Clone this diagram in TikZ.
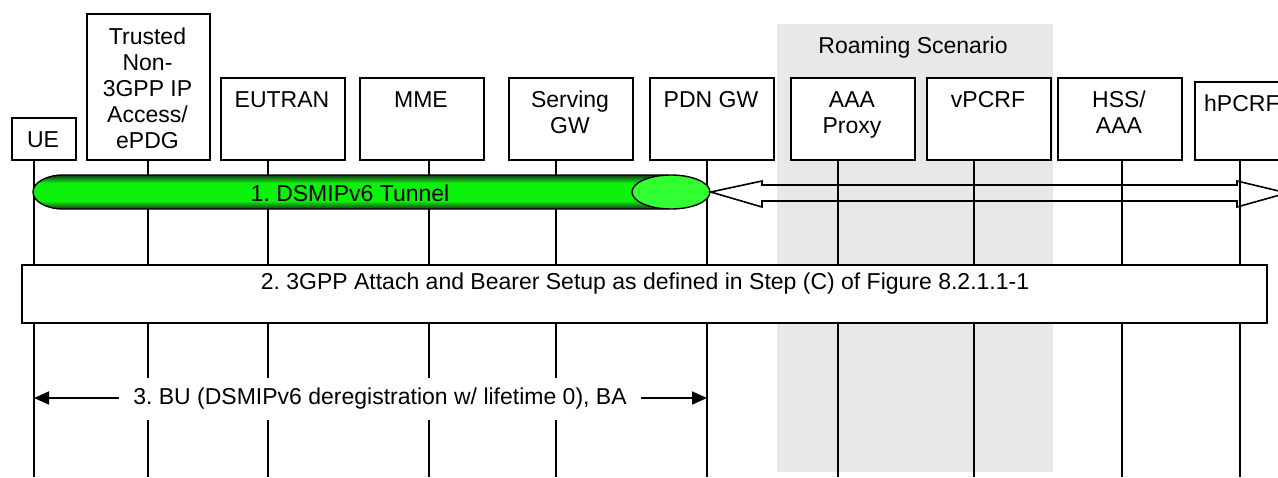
\documentclass[tikz,border=0pt]{standalone}
\usepackage{fontspec}
\setmainfont{Liberation Sans}
\usetikzlibrary{arrows.meta,shapes.geometric}
\definecolor{roam}{RGB}{232,232,232}
\definecolor{tubedark}{RGB}{25,55,25}
\definecolor{tubegreen}{RGB}{12,242,12}
\definecolor{capgreen}{RGB}{50,255,50}
\pgfdeclareverticalshading{tube}{100bp}{color(0bp)=(tubedark); color(25bp)=(tubedark); color(37bp)=(tubegreen); color(63bp)=(tubegreen); color(75bp)=(tubedark); color(100bp)=(tubedark)}
\frenchspacing
\begin{document}
\begin{tikzpicture}[x=1pt,y=-1pt,
  ent/.style={draw=black, line width=1.6pt, fill=white, inner sep=0, anchor=north west},
  lbl/.style={font=\fontsize{23}{26}\selectfont, align=center, inner sep=0},
  life/.style={line width=1.7pt},
  msg/.style={line width=1.7pt, {Triangle[length=15pt,width=13pt]}-{Triangle[length=15pt,width=13pt]}}
]
\useasboundingbox (0,0) rectangle (1278,477);
\clip (0,0) rectangle (1278,477);
% roaming area
\fill[roam] (777,24) rectangle (1053,472);
\node[lbl, anchor=north] (roamt) at (913,37) {Roaming Scenario};
% entity boxes
\node[ent, minimum width=64,  minimum height=42] (ue)   at (11,117) {};
\node[ent, minimum width=123, minimum height=146] (tn)  at (86,13) {};
\node[ent, minimum width=124, minimum height=82] (eu)   at (220,77) {};
\node[ent, minimum width=124, minimum height=82] (mme)  at (359,77) {};
\node[ent, minimum width=124, minimum height=82] (sgw)  at (508,77) {};
\node[ent, minimum width=124, minimum height=82] (pgw)  at (649,77) {};
\node[ent, minimum width=124, minimum height=82] (aaap) at (790,77) {};
\node[ent, minimum width=124, minimum height=82] (vp)   at (926,77) {};
\node[ent, minimum width=124, minimum height=82] (hss)  at (1057,77) {};
\node[ent, minimum width=100, minimum height=78] (hp)   at (1194,81) {};
% labels
\node[lbl] (uet) at (43,140) {UE};
\node[lbl, anchor=north] (tnt) at (147.5,28) {Trusted\\Non-\\3GPP IP\\Access/\\ePDG};
\node[lbl, anchor=north] (eut) at (282,91) {EUTRAN};
\node[lbl, anchor=north] (mmet) at (421,91) {MME};
\node[lbl, anchor=north] (sgwt) at (570,91) {Serving\\GW};
\node[lbl, anchor=north] (pgwt) at (711,91) {PDN GW};
\node[lbl, anchor=north] (aaapt) at (852,91) {AAA\\Proxy};
\node[lbl, anchor=north] (vpt) at (988,91) {vPCRF};
\node[lbl, anchor=north] (hsst) at (1119,91) {HSS/\\AAA};
\node[lbl, anchor=north west] (hpt) at (1204,95) {hPCRF};
% lifelines
\coordinate (bot) at (0,477);
\coordinate (ue-l) at (34,159);
\coordinate (tn-l) at (148,159);
\coordinate (eu-l) at (268,159);
\coordinate (mme-l) at (429,159);
\coordinate (sgw-l) at (556,159);
\coordinate (pgw-l) at (707,159);
\coordinate (aaap-l) at (838,159);
\coordinate (vp-l) at (974,159);
\coordinate (hss-l) at (1122,159);
\coordinate (hp-l) at (1240,159);
\foreach \n in {ue,tn,eu,mme,sgw,pgw,aaap,vp,hss,hp}
  \draw[life] (\n-l) -- (\n-l |- bot);
% 1. tunnel
\path[shading=tube, draw=black, line width=1.4pt]
  (63,175) -- (660,175) arc[start angle=-90, end angle=90, x radius=30, y radius=17]
  -- (63,209) arc[start angle=90, end angle=270, x radius=30, y radius=17] -- cycle;
\node[lbl] (tunt) at (350,193) {1. DSMIPv6 Tunnel};
\node[draw=black, line width=1.4pt, ellipse, fill=capgreen, minimum width=78, minimum height=34, inner sep=0] (cap) at (671,192) {};
% block double arrow
\draw[line width=1.6pt, line join=miter]
  (cap.east) -- (762,181) -- (762,185) -- (1237,185) -- (1237,181) -- (1287,193)
  -- (1237,207) -- (1237,201) -- (762,201) -- (762,207) -- cycle;
% 2. big box
\node[draw=black, line width=2.2pt, fill=white, minimum width=1245, minimum height=58, inner sep=0, anchor=north west] (attach) at (21,264) {};
\node[lbl] (attacht) at (645,284) {2. 3GPP Attach and Bearer Setup as defined in Step (C) of Figure 8.2.1.1-1};
% 3. BU/BA
\coordinate (m3a) at (34,398);
\coordinate (m3b) at (707,398);
\draw[msg] (m3a) -- (m3b);
\node[lbl, fill=white, minimum height=42, inner xsep=14] (m3t) at (380,399) {3. BU (DSMIPv6 deregistration w/ lifetime 0), BA};
\end{tikzpicture}
\end{document}
